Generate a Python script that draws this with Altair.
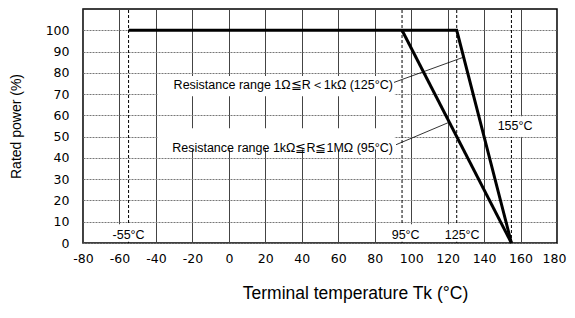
import altair as alt
import pandas as pd

# Derating curves
curve_names = ["125", "125", "125", "95", "95"]
curve_temp = [-55, 125, 155, 95, 155]
curve_power = [100, 100, 0, 100, 0]

# Dashed reference lines
ref_temps = [-55, 95, 125, 155]

# Reference labels
ref_labels = ["-55°C", "95°C", "125°C", "155°C"]
ref_label_x = [-55, 97, 128, 157]
ref_label_y = [3.8, 3.8, 3.8, 54.8]

# Annotations
ann_text = ["Resistance range 1Ω≦R＜1kΩ (125°C)", "Resistance range 1kΩ≦R≦1MΩ (95°C)"]
ann_x = [90, 90]
ann_y = [74.5, 44.8]
lead_x1 = [90.6, 91.7]
lead_y1 = [75.5, 46.2]
lead_x2 = [128.6, 120.4]
lead_y2 = [87.3, 56.6]

# White boxes behind labels (data units)
box_x1 = [-39, -39, -64, 86, 116, 145]
box_x2 = [91, 91, -46, 106, 138, 165]
box_y1 = [69, 44, 0.6, 0.6, 0.6, 50]
box_y2 = [78.5, 54, 8.7, 8.7, 8.7, 59.5]

x_ticks = list(range(-80, 181, 20))
y_ticks = list(range(0, 101, 10))

curves = pd.DataFrame({"name": curve_names, "t": curve_temp, "p": curve_power})
refs = pd.DataFrame({"t": ref_temps, "y0": [0] * 4, "y1": [110] * 4})
reflab = pd.DataFrame({"label": ref_labels, "x": ref_label_x, "y": ref_label_y})
ann = pd.DataFrame({"text": ann_text, "x": ann_x, "y": ann_y,
                    "x1": lead_x1, "y1": lead_y1, "x2": lead_x2, "y2": lead_y2})
boxes = pd.DataFrame({"x1": box_x1, "x2": box_x2, "y1": box_y1, "y2": box_y2})

xs = alt.Scale(domain=[-80, 180], nice=False, zero=False)
ys = alt.Scale(domain=[0, 110], nice=False)

xaxis = alt.Axis(values=x_ticks, grid=True, gridColor="#444", gridWidth=1,
                 ticks=False, domain=False, labelFont="DejaVu Sans", labelFontSize=12.5,
                 labelColor="#000", labelPadding=9, labelOverlap=False, labelFlush=False,
                 labelExpr="'' + datum.value",
                 labelOffset={"condition": {"test": "datum.value == 180", "value": -3}, "value": 0},
                 title="Terminal temperature Tk (°C)",
                 titleFont="Liberation Sans", titleFontSize=17.5, titleFontWeight="normal",
                 titleColor="#000", titleX=272, titleY=55, titleAlign="center",
                 titleBaseline="alphabetic")
yaxis = alt.Axis(values=y_ticks, grid=True, gridColor="#777", gridWidth=1, gridDash=[2, 1],
                 ticks=False, domain=False, labelFont="DejaVu Sans", labelFontSize=12.5,
                 labelColor="#000", labelPadding=14, labelOverlap=False, labelFlush=False,
                 title="Rated power (%)",
                 titleFont="Liberation Sans", titleFontSize=14, titleFontWeight="normal",
                 titleColor="#000", titlePadding=22)

X = lambda f: alt.X(f, type="quantitative", scale=xs, axis=xaxis, title="Terminal temperature Tk (°C)")
Y = lambda f: alt.Y(f, type="quantitative", scale=ys, axis=yaxis, title="Rated power (%)")

box_layer = alt.Chart(boxes).mark_rect(color="white").encode(
    x=X("x1"), x2="x2:Q", y=Y("y1"), y2="y2:Q",
)

ref_layer = alt.Chart(refs).mark_rule(color="#000", strokeDash=[3, 2], strokeWidth=1).encode(
    x=X("t"), y=Y("y0"), y2="y1:Q",
)

box_layer2 = alt.Chart(boxes.iloc[2:]).mark_rect(color="white").encode(
    x=X("x1"), x2="x2:Q", y=Y("y1"), y2="y2:Q",
)

lead_layer = alt.Chart(ann).mark_rule(color="#000", strokeWidth=0.8).encode(
    x=X("x1"), y=Y("y1"), x2="x2:Q", y2="y2:Q",
)

curve_layer = alt.Chart(curves).mark_line(color="#000", strokeWidth=3).encode(
    x=X("t"), y=Y("p"), detail="name:N", order=alt.Order("t:Q"),
)

ann_layer = alt.Chart(ann).mark_text(align="right", baseline="middle", font="Liberation Sans",
                                     fontSize=12.5, color="#000").encode(
    x=X("x"), y=Y("y"), text="text:N",
)

reflab_layer = alt.Chart(reflab).mark_text(align="center", baseline="middle", font="Liberation Sans",
                                           fontSize=12.5, color="#000").encode(
    x=X("x"), y=Y("y"), text="label:N",
)

chart = alt.layer(
    box_layer, ref_layer, box_layer2, lead_layer, curve_layer, ann_layer, reflab_layer
).properties(
    width=474, height=234,
    autosize=alt.AutoSizeParams(type="none"),
    padding={"left": 75, "top": 1, "right": 10, "bottom": 60},
).configure_view(stroke="#000", strokeWidth=1.5)

chart.save("out.html", embed_options={"renderer": "svg", "actions": False})
